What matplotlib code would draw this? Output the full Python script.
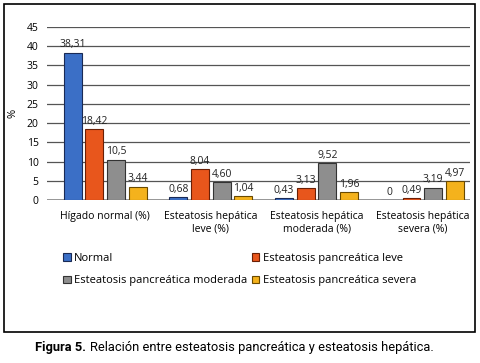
import numpy as np
import matplotlib
matplotlib.use("Agg")
import matplotlib.pyplot as plt
from matplotlib.patches import Rectangle

# data
categories = ["Hígado normal (%)", "Esteatosis hepática\nleve (%)",
              "Esteatosis hepática\nmoderada (%)", "Esteatosis hepática\nsevera (%)"]
series_names = ["Normal", "Esteatosis pancreática leve",
                "Esteatosis pancreática moderada", "Esteatosis pancreática severa"]
normal = [38.31, 0.68, 0.43, 0]
leve = [18.42, 8.04, 3.13, 0.49]
moderada = [10.5, 4.60, 9.52, 3.19]
severa = [3.44, 1.04, 1.96, 4.97]
labels = [["38,31", "0,68", "0,43", "0"],
          ["18,42", "8,04", "3,13", "0,49"],
          ["10,5", "4,60", "9,52", "3,19"],
          ["3,44", "1,04", "1,96", "4,97"]]
yticks = [0, 5, 10, 15, 20, 25, 30, 35, 40, 45]

colors = ["#3b6fc6", "#e8561c", "#8e8e8e", "#f4b21c"]
edges = ["#1a2a55", "#6a1f05", "#333333", "#6a4a00"]

plt.rcParams['font.family'] = ['Open Sans', 'DejaVu Sans']

fig = plt.figure(figsize=(4.8, 3.63), dpi=100)
ax = fig.add_axes([0.098, 0.449, 0.881, 0.477])

x = np.arange(len(categories))
width = 0.17
step = 0.205
all_series = [normal, leve, moderada, severa]
handles = []
for i, vals in enumerate(all_series):
    pos = x + 0.05 + (i - 1.5) * step
    b = ax.bar(pos, vals, width, color=colors[i], edgecolor=edges[i],
               linewidth=0.8, label=series_names[i], zorder=3)
    handles.append(b)
    for p, v, t in zip(pos, vals, labels[i]):
        ax.text(p, v + 0.6, t, ha="center", va="bottom", fontsize=7.5,
                color="#222222", zorder=4)

ax.set_xlim(-0.5, len(categories) - 0.5)
ax.set_ylim(0, 45)
ax.set_yticks(yticks)
ax.tick_params(axis="y", length=0, labelsize=7.5, pad=6)
ax.set_xticks(x + 0.05)
ax.set_xticklabels(categories, fontsize=7.5)
ax.tick_params(axis="x", length=0, pad=8)
ax.yaxis.grid(True, color="#555555", linewidth=0.9, zorder=0)
for s in ax.spines.values():
    s.set_visible(False)
ax.axhline(0, color="#888888", linewidth=1.2, zorder=2)
ax.set_ylabel("%", fontsize=8, labelpad=6)

# legend fills column-wise, so reorder to get rows: Normal/leve, moderada/severa
order = [0, 2, 1, 3]
fig.legend(handles=[handles[k] for k in order],
           labels=[series_names[k] for k in order], loc="upper left",
           bbox_to_anchor=(0.11, 0.33), ncol=2, frameon=False,
           fontsize=8, handlelength=0.7, handleheight=0.7,
           handletextpad=0.3, columnspacing=0.4, labelspacing=1.0)

# outer frame
fig.patches.append(Rectangle((4 / 480, 1 - 332 / 363), 471 / 480, 328 / 363,
                             transform=fig.transFigure, fill=False,
                             edgecolor="black", linewidth=1.2))

cap_font = ["Roboto", "DejaVu Sans"]
t1 = fig.text(0.073, 0.043, "Figura 5.", fontsize=9.3, fontweight="bold",
              family=cap_font, va="center", ha="left")
fig.canvas.draw()
bb = t1.get_window_extent(renderer=fig.canvas.get_renderer())
fig.text(bb.x1 / fig.bbox.width + 0.008, 0.043,
         "Relación entre esteatosis pancreática y esteatosis hepática.",
         fontsize=9.3, family=cap_font, va="center", ha="left")

fig.savefig("out.png", dpi=100)
